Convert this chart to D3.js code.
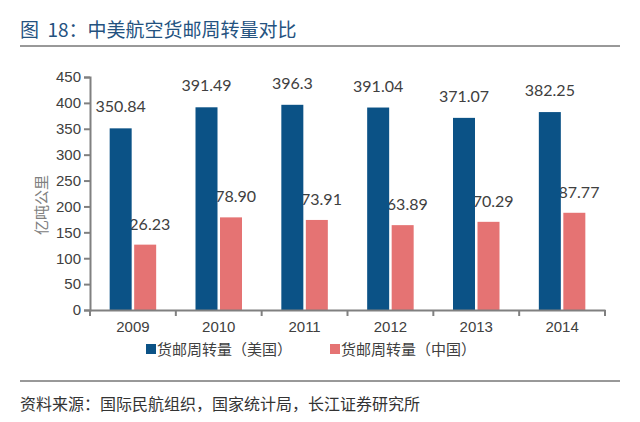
<!DOCTYPE html>
<html lang="zh">
<head>
<meta charset="UTF-8">
<title>中美航空货邮周转量对比</title>
<script src="https://d3js.org/d3.v7.min.js"></script>
<style>
    body { margin: 0; background: #fff; }
    text { font-family: "Liberation Sans", Arial, sans-serif; }
    .cjk { font-family: "Noto Sans CJK SC", sans-serif; white-space: pre; }
    .val { font-family: Lato, "DejaVu Sans", sans-serif; font-size: 16px; fill: #404040; }
</style>
</head>
<body>
<script>
    const years = ["2009", "2010", "2011", "2012", "2013", "2014"];
    const usValues = [350.84, 391.49, 396.3, 391.04, 371.07, 382.25];
    const cnValues = [126.23, 178.90, 173.91, 163.89, 170.29, 187.77];
    const usLabels = ["350.84", "391.49", "396.3", "391.04", "371.07", "382.25"];
    const cnLabels = ["126.23", "178.90", "173.91", "163.89", "170.29", "187.77"];
    const yTicks = [0, 50, 100, 150, 200, 250, 300, 350, 400, 450];
    const seriesNames = ["货邮周转量（美国）", "货邮周转量（中国）"];
    const colors = ["#0b5286", "#e57373"];

    const W = 640, H = 422;
    const svg = d3.select("body").append("svg").attr("width", W).attr("height", H);

    // 标题
    svg.append("text").attr("class", "cjk")
        .attr("x", 20).attr("y", 37)
        .attr("font-size", 19).attr("fill", "#24527f")
        .text("图  18：中美航空货邮周转量对比");
    svg.append("line").attr("x1", 20).attr("x2", 620).attr("y1", 46).attr("y2", 46)
        .attr("stroke", "#333").attr("stroke-width", 1);

    const x = d3.scaleBand().domain(years).range([90, 605]);
    const y = d3.scaleLinear().domain([0, 450]).range([310, 77]);
    const barW = 22, gap = 2.5;

    // 数值标签（先画，被柱子遮挡一部分）
    const g = svg.append("g");
    g.selectAll(".cnlab").data(years).enter().append("text")
        .attr("class", "val").attr("text-anchor", "middle")
        .attr("x", d => x(d) + x.bandwidth() / 2 + gap / 2 + barW / 2)
        .attr("y", (d, i) => y(cnValues[i]) - 15)
        .text((d, i) => cnLabels[i]);
    g.selectAll(".uslab").data(years).enter().append("text")
        .attr("class", "val").attr("text-anchor", "middle")
        .attr("x", (d) => x(d) + x.bandwidth() / 2 - gap / 2 - barW / 2)
        .attr("y", (d, i) => y(usValues[i]) - 16)
        .text((d, i) => usLabels[i]);

    // 柱子
    g.selectAll(".us").data(years).enter().append("rect")
        .attr("x", d => x(d) + x.bandwidth() / 2 - gap / 2 - barW)
        .attr("y", (d, i) => y(usValues[i]))
        .attr("width", barW)
        .attr("height", (d, i) => y(0) - y(usValues[i]))
        .attr("fill", colors[0]);
    g.selectAll(".cn").data(years).enter().append("rect")
        .attr("x", d => x(d) + x.bandwidth() / 2 + gap / 2)
        .attr("y", (d, i) => y(cnValues[i]))
        .attr("width", barW)
        .attr("height", (d, i) => y(0) - y(cnValues[i]))
        .attr("fill", colors[1]);

    // y轴
    const yAxis = svg.append("g").attr("transform", "translate(90,0)")
        .call(d3.axisLeft(y).tickValues(yTicks).tickSize(6).tickPadding(3));
    yAxis.select(".domain").attr("stroke", "#808080").attr("stroke-width", 2);
    yAxis.selectAll(".tick line").attr("stroke", "#808080").attr("stroke-width", 2);
    yAxis.selectAll("text").attr("font-size", 15).attr("fill", "#404040")
        .attr("font-family", "'Liberation Sans', Arial, sans-serif");

    // x轴
    const xAxis = svg.append("g").attr("transform", "translate(0,310)")
        .call(d3.axisBottom(x).tickSize(0).tickPadding(11));
    xAxis.select(".domain").attr("stroke", "#808080").attr("stroke-width", 2);
    xAxis.selectAll("text").attr("font-size", 15).attr("fill", "#404040")
        .attr("font-family", "'Liberation Sans', Arial, sans-serif");
    // 类别分隔刻度
    const bounds = years.map(d => x(d)).concat([x.range()[1]]);
    svg.append("g").selectAll("line").data(bounds).enter().append("line")
        .attr("x1", d => d).attr("x2", d => d)
        .attr("y1", 310).attr("y2", 316)
        .attr("stroke", "#808080").attr("stroke-width", 2);

    // y轴标题
    svg.append("text").attr("class", "cjk")
        .attr("transform", "translate(47,205) rotate(-90)")
        .attr("text-anchor", "middle").attr("font-size", 15).attr("fill", "#808080")
        .text("亿吨公里");

    // 图例
    const legX = [146, 330];
    const leg = svg.append("g").selectAll("g").data(seriesNames).enter().append("g")
        .attr("transform", (d, i) => `translate(${legX[i]},349)`);
    leg.append("rect").attr("x", 0).attr("y", -5).attr("width", 10).attr("height", 10)
        .attr("fill", (d, i) => colors[i]);
    leg.append("text").attr("class", "cjk").attr("x", 11).attr("y", 6)
        .attr("font-size", 15).attr("fill", "#404040").text(d => d);

    // 来源
    svg.append("line").attr("x1", 20).attr("x2", 620).attr("y1", 381).attr("y2", 381)
        .attr("stroke", "#333").attr("stroke-width", 1);
    svg.append("text").attr("class", "cjk")
        .attr("x", 20).attr("y", 410)
        .attr("font-size", 16).attr("fill", "#333")
        .text("资料来源：国际民航组织，国家统计局，长江证券研究所");
</script>
</body>
</html>
